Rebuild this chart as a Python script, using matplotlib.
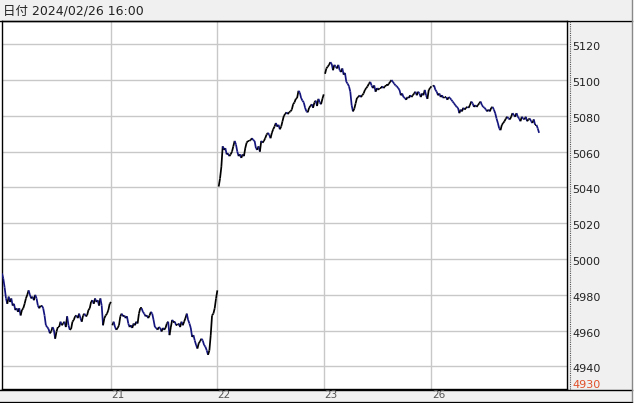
import numpy as np
import matplotlib.pyplot as plt
from matplotlib.collections import LineCollection
from matplotlib.patches import Rectangle
from matplotlib.lines import Line2D
from matplotlib.transforms import blended_transform_factory, offset_copy

# 価格データ (日ごと, 約1.3px間隔で読み取り)
day20 = [4992, 4989, 4984, 4978, 4975, 4979, 4976, 4978, 4974, 4975, 4971.5, 4972.5, 4970.5,
         4972.5, 4968.5, 4971.5, 4972.5, 4975, 4978, 4980, 4982.5, 4980, 4978, 4979, 4977, 4980,
         4978, 4974, 4972.5, 4974, 4974, 4972.5, 4968.5, 4963, 4962, 4961, 4958.5, 4959.5, 4962,
         4960.5, 4955.5, 4959.5, 4962, 4962, 4965, 4963, 4964, 4965, 4962, 4968, 4963, 4960.5,
         4961, 4965, 4966, 4968, 4968.5, 4967, 4969.5, 4967, 4965, 4968.5, 4969.5, 4968, 4968.5,
         4971.5, 4972.5, 4976, 4977, 4975, 4978, 4976, 4977, 4974, 4978, 4974, 4963, 4967,
         4968.5, 4969.5, 4971.5, 4975, 4976]
day21 = [4963, 4965, 4962, 4960.5, 4961.5, 4963, 4968, 4969.5, 4968, 4968.5, 4967, 4968, 4964,
         4962, 4963, 4961.5, 4964, 4963, 4965, 4964, 4969.5, 4972.5, 4972.5, 4970.5, 4969.5, 4968,
         4968.5, 4967, 4968.5, 4970.5, 4969.5, 4966, 4962, 4961.5, 4960.5, 4962, 4961.5, 4959.5,
         4961.5, 4960.5, 4961.5, 4964, 4965, 4957.5, 4962, 4966, 4965, 4965, 4963, 4963, 4964,
         4962, 4965, 4963, 4965, 4967, 4969.5, 4966, 4964, 4961.5, 4956.5, 4957.5, 4954.5, 4952,
         4950, 4953, 4954, 4955.5, 4954.5, 4952, 4951, 4949, 4946.5, 4949, 4957.5, 4968.5, 4969.5,
         4972.5, 4978, 4982.5]
day22 = [5040.5, 5045, 5051.5, 5063, 5061, 5062, 5058.5, 5059, 5057.5, 5058.5, 5060, 5063, 5066,
         5064, 5060, 5057.5, 5058.5, 5056.5, 5058.5, 5057.5, 5062, 5065, 5066, 5066, 5066.5,
         5067.5, 5066.5, 5066, 5062, 5061, 5063, 5060, 5066, 5065, 5066, 5067.5, 5069.5, 5070.5,
         5069.5, 5067.5, 5070.5, 5072.5, 5074, 5076, 5074, 5075, 5072.5, 5074, 5077, 5080, 5081,
         5082, 5081, 5082, 5082.5, 5083.5, 5086.5, 5087.5, 5089.5, 5090, 5094, 5093, 5090, 5088.5,
         5087.5, 5084.5, 5082.5, 5082, 5084.5, 5085.5, 5086.5, 5084.5, 5087.5, 5088.5, 5085.5,
         5089.5, 5087.5, 5086.5, 5089.5, 5092]
day23 = [5103.5, 5106.5, 5107.5, 5108.5, 5110, 5109, 5105.5, 5108.5, 5107.5, 5106.5, 5108.5,
         5105.5, 5104.5, 5106.5, 5103, 5104, 5099, 5098, 5096.5, 5093.5, 5086, 5082.5, 5084, 5087,
         5090, 5090.5, 5091.5, 5090.5, 5091.5, 5092.5, 5094.5, 5095.5, 5096.5, 5098, 5099, 5097,
         5095.5, 5097, 5093.5, 5095.5, 5094.5, 5095.5, 5095.5, 5096.5, 5095.5, 5096.5, 5097, 5097,
         5098, 5099, 5100, 5099, 5098, 5097, 5096.5, 5095.5, 5094.5, 5091.5, 5092.5, 5090.5, 5090,
         5089, 5090.5, 5090, 5091.5, 5090.5, 5091.5, 5092.5, 5093.5, 5091.5, 5093.5, 5092.5,
         5090.5, 5092.5, 5091.5, 5094.5, 5091.5, 5089.5, 5094.5, 5095.5, 5096.5]
day26 = [5096.5, 5097, 5094.5, 5093.5, 5091.5, 5092.5, 5090.5, 5091.5, 5090, 5090.5, 5090.5,
         5089, 5090.5, 5090, 5089, 5088, 5087, 5086, 5085, 5084.5, 5081.5, 5083.5, 5082.5, 5084.5,
         5083.5, 5084.5, 5085, 5084.5, 5086, 5088, 5087, 5085, 5086, 5085, 5086, 5087, 5088, 5086,
         5085, 5084.5, 5083.5, 5082.5, 5083.5, 5082.5, 5084.5, 5085, 5083.5, 5081.5, 5078.5, 5076,
         5073, 5072, 5075, 5076, 5077, 5078.5, 5079.5, 5078.5, 5078, 5079.5, 5081.5, 5080.5,
         5079.5, 5081.5, 5079.5, 5078.5, 5077, 5079.5, 5078.5, 5078, 5079.5, 5077, 5078, 5078.5,
         5077, 5076, 5078, 5075, 5075, 5073, 5070.5]
days = [day20, day21, day22, day23, day26]
day_labels = ['21', '22', '23', '26']
y_ticks = [4940, 4960, 4980, 5000, 5020, 5040, 5060, 5080, 5100, 5120]
y_min_label = 4930
title_text = '日付 2024/02/26 16:00'

W, H = 634, 403
fig = plt.figure(figsize=(W / 100, H / 100), dpi=100)


def fx(px):
    return px / W


def fy(py):
    return 1 - py / H


ax = fig.add_axes([fx(2), fy(389), (567 - 2) / W, (389 - 21) / H])
ax.set_xlim(0, 425)
ax.set_ylim(4927.4, 5133)
ax.set_xticks([])
ax.set_yticks([])
for s in ax.spines.values():
    s.set_color('black')
    s.set_linewidth(1)

# 日ごとの開始位置
starts = np.cumsum([0] + [len(d) for d in days[:-1]])

# グリッド
ax.hlines(y_ticks, 0, 425, color='#c8c8c8', lw=1, zorder=0)
ax.vlines(starts[1:] - 1, 4927.4, 5133, color='#c8c8c8', lw=1, zorder=0)

# 価格ライン (上昇=黒, 下降=紺)
for st, d in zip(starts, days):
    x = np.arange(st, st + len(d))
    y = np.array(d, dtype=float)
    pts = np.column_stack([x, y])
    segs = np.stack([pts[:-1], pts[1:]], axis=1)
    cols = ['#000000' if b >= a else '#14147e' for a, b in zip(y[:-1], y[1:])]
    ax.add_collection(LineCollection(segs, colors=cols, linewidths=1.25, zorder=3))

# 上部タイトルバー
fig.add_artist(Rectangle((0, fy(20)), fx(632), 20 / H, transform=fig.transFigure,
                         facecolor='#f0f0f0', edgecolor='none', zorder=0))
fig.add_artist(Line2D([0, fx(632)], [fy(20.5), fy(20.5)], transform=fig.transFigure,
                      color='black', lw=1))
fig.text(fx(3), fy(10.5), title_text, ha='left', va='center', fontsize=9, color='#222222',
         family=['DejaVu Sans', 'Noto Sans CJK JP'])

# 右側の価格軸パネル
fig.add_artist(Rectangle((fx(567), fy(389)), (632 - 567) / W, (389 - 21) / H,
                         transform=fig.transFigure, facecolor='#f0f0f0', edgecolor='none', zorder=0))
fig.add_artist(Line2D([fx(569.5), fx(569.5)], [fy(389), fy(21)], transform=fig.transFigure,
                      color='#555555', lw=0.8, linestyle=(0, (1, 1))))
trans_y = blended_transform_factory(fig.transFigure, ax.transData)
for v in y_ticks:
    fig.text(fx(572), v, str(v), ha='left', va='center', fontsize=8, color='#222222',
             transform=offset_copy(trans_y, fig=fig, y=-3, units='dots'))
fig.text(fx(572), y_min_label, str(y_min_label), ha='left', va='center', fontsize=8,
         color='#e0502a', transform=offset_copy(trans_y, fig=fig, y=-1, units='dots'))

# 下部の日付バー
fig.add_artist(Rectangle((0, fy(401)), fx(632), 12 / H, transform=fig.transFigure,
                         facecolor='#f0f0f0', edgecolor='none', zorder=0))
fig.add_artist(Line2D([0, fx(632)], [fy(389.5), fy(389.5)], transform=fig.transFigure,
                      color='black', lw=1))
fig.add_artist(Line2D([0, fx(632)], [fy(401.5), fy(401.5)], transform=fig.transFigure,
                      color='black', lw=1))
fig.add_artist(Line2D([fx(631.5), fx(631.5)], [fy(401), fy(0)], transform=fig.transFigure,
                      color='#888888', lw=1))
trans_x = blended_transform_factory(ax.transData, fig.transFigure)
for st, lab in zip(starts[1:], day_labels):
    fig.text(st - 1, fy(395.5), lab, ha='center', va='center', fontsize=7.5, color='#555555',
             transform=offset_copy(trans_x, fig=fig, x=7, units='dots'))

fig.savefig('out.png', dpi=100)
